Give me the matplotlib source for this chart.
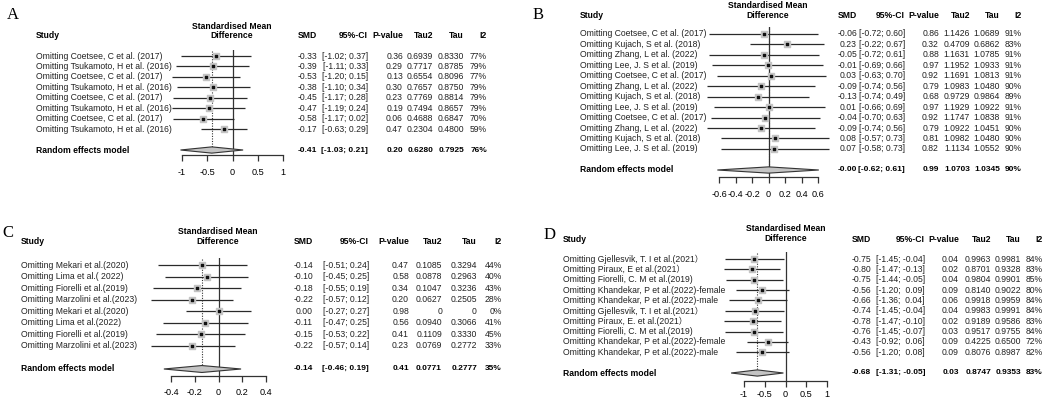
import numpy as np
import matplotlib.pyplot as plt
from matplotlib.transforms import blended_transform_factory

# ---- data: panel A
a_study = ["Omitting Coetsee, C et al. (2017)", "Omitting Tsukamoto, H et al. (2016)",
           "Omitting Coetsee, C et al. (2017)", "Omitting Tsukamoto, H et al. (2016)",
           "Omitting Coetsee, C et al. (2017)", "Omitting Tsukamoto, H et al. (2016)",
           "Omitting Coetsee, C et al. (2017)", "Omitting Tsukamoto, H et al. (2016)"]
a_smd = [-0.33, -0.39, -0.53, -0.38, -0.45, -0.47, -0.58, -0.17]
a_lo = [-1.02, -1.11, -1.20, -1.10, -1.17, -1.19, -1.17, -0.63]
a_hi = [0.37, 0.33, 0.15, 0.34, 0.28, 0.24, 0.02, 0.29]
a_p = [0.36, 0.29, 0.13, 0.30, 0.23, 0.19, 0.06, 0.47]
a_tau2 = [0.6939, 0.7717, 0.6554, 0.7657, 0.7769, 0.7494, 0.4688, 0.2304]
a_tau = [0.8330, 0.8785, 0.8096, 0.8750, 0.8814, 0.8657, 0.6847, 0.4800]
a_i2 = [77, 79, 77, 79, 79, 79, 70, 59]
a_pool = [-0.41, -1.03, 0.21, 0.20, 0.6280, 0.7925, 76]
a_ticks = [-1, -0.5, 0, 0.5, 1]
a_ticklabels = ["-1", "-0.5", "0", "0.5", "1"]

# ---- data: panel B
b_study = ["Omitting Coetsee, C et al. (2017)", "Omitting Kujach, S et al. (2018)",
           "Omitting Zhang, L et al. (2022)", "Omitting Lee, J. S et al. (2019)",
           "Omitting Coetsee, C et al. (2017)", "Omitting Zhang, L et al. (2022)",
           "Omitting Kujach, S et al. (2018)", "Omitting Lee, J. S et al. (2019)",
           "Omitting Coetsee, C et al. (2017)", "Omitting Zhang, L et al. (2022)",
           "Omitting Kujach, S et al. (2018)", "Omitting Lee, J. S et al. (2019)"]
b_smd = [-0.06, 0.23, -0.05, -0.01, 0.03, -0.09, -0.13, 0.01, -0.04, -0.09, 0.08, 0.07]
b_lo = [-0.72, -0.22, -0.72, -0.69, -0.63, -0.74, -0.74, -0.66, -0.70, -0.74, -0.57, -0.58]
b_hi = [0.60, 0.67, 0.61, 0.66, 0.70, 0.56, 0.49, 0.69, 0.63, 0.56, 0.73, 0.73]
b_p = [0.86, 0.32, 0.88, 0.97, 0.92, 0.79, 0.68, 0.97, 0.92, 0.79, 0.81, 0.82]
b_tau2 = [1.1426, 0.4709, 1.1631, 1.1952, 1.1691, 1.0983, 0.9729, 1.1929, 1.1747, 1.0922, 1.0982, 1.1134]
b_tau = [1.0689, 0.6862, 1.0785, 1.0933, 1.0813, 1.0480, 0.9864, 1.0922, 1.0838, 1.0451, 1.0480, 1.0552]
b_i2 = [91, 83, 91, 91, 91, 90, 89, 91, 91, 90, 90, 90]
b_pool = [-0.00, -0.62, 0.61, 0.99, 1.0703, 1.0345, 90]
b_ticks = [-0.6, -0.4, -0.2, 0, 0.2, 0.4, 0.6]
b_ticklabels = ["-0.6", "-0.4", "-0.2", "0", "0.2", "0.4", "0.6"]

# ---- data: panel C
c_study = ["Omitting Mekari et al.(2020)", "Omitting Lima et al.( 2022)",
           "Omitting Fiorelli et al.(2019)", "Omitting Marzolini et al.(2023)",
           "Omitting Mekari et al.(2020)", "Omitting Lima et al.(2022)",
           "Omitting Fiorelli et al.(2019)", "Omitting Marzolini et al.(2023)"]
c_smd = [-0.14, -0.10, -0.18, -0.22, 0.00, -0.11, -0.15, -0.22]
c_lo = [-0.51, -0.45, -0.55, -0.57, -0.27, -0.47, -0.53, -0.57]
c_hi = [0.24, 0.25, 0.19, 0.12, 0.27, 0.25, 0.22, 0.14]
c_p = [0.47, 0.58, 0.34, 0.20, 0.98, 0.56, 0.41, 0.23]
c_tau2 = [0.1085, 0.0878, 0.1047, 0.0627, 0, 0.0940, 0.1109, 0.0769]
c_tau = [0.3294, 0.2963, 0.3236, 0.2505, 0, 0.3066, 0.3330, 0.2772]
c_i2 = [44, 40, 43, 28, 0, 41, 45, 33]
c_pool = [-0.14, -0.46, 0.19, 0.41, 0.0771, 0.2777, 35]
c_ticks = [-0.4, -0.2, 0, 0.2, 0.4]
c_ticklabels = ["-0.4", "-0.2", "0", "0.2", "0.4"]

# ---- data: panel D
d_study = ["Omitting Gjellesvik, T. I et al.(2021）", "Omitting Piraux, E et al.(2021）",
           "Omitting Fiorelli, C. M et al.(2019)", "Omitting Khandekar, P et al.(2022)-female",
           "Omitting Khandekar, P et al.(2022)-male", "Omitting Gjellesvik, T. I et al.(2021）",
           "Omitting Piraux, E. et al.(2021）", "Omitting Fiorelli, C. M et al.(2019)",
           "Omitting Khandekar, P et al.(2022)-female", "Omitting Khandekar, P et al.(2022)-male"]
d_smd = [-0.75, -0.80, -0.75, -0.56, -0.66, -0.74, -0.78, -0.76, -0.43, -0.56]
d_lo = [-1.45, -1.47, -1.44, -1.20, -1.36, -1.45, -1.47, -1.45, -0.92, -1.20]
d_hi = [-0.04, -0.13, -0.05, 0.09, 0.04, -0.04, -0.10, -0.07, 0.06, 0.08]
d_p = [0.04, 0.02, 0.04, 0.09, 0.06, 0.04, 0.02, 0.03, 0.09, 0.09]
d_tau2 = [0.9963, 0.8701, 0.9804, 0.8140, 0.9918, 0.9983, 0.9189, 0.9517, 0.4225, 0.8076]
d_tau = [0.9981, 0.9328, 0.9901, 0.9022, 0.9959, 0.9991, 0.9586, 0.9755, 0.6500, 0.8987]
d_i2 = [84, 83, 85, 80, 84, 84, 83, 84, 72, 82]
d_pool = [-0.68, -1.31, -0.05, 0.03, 0.8747, 0.9353, 83]
d_ticks = [-1, -0.5, 0, 0.5, 1]
d_ticklabels = ["-1", "-0.5", "0", "0.5", "1"]

W, H = 1045, 399
FS = 6.2
SANS = ['Liberation Sans', 'Noto Sans CJK SC', 'DejaVu Sans']
SERIF = ['Liberation Serif', 'DejaVu Serif']

fig = plt.figure(figsize=(W / 100, H / 100), dpi=100)


def fx(px):
    return px / W


def fy(py):
    return 1 - py / H


def num(v, d):
    if v == 0 and d == 4:
        return "0"
    return f"{v:.{d}f}"


def ci_text(lo, hi, wlo, whi):
    return "[" + f"{lo:.2f}".rjust(wlo) + "; " + f"{hi:.2f}".rjust(whi) + "]"


def forest(study, smd, lo, hi, p, tau2, tau, i2, pool, ticks, ticklabels, lay):
    n = len(study)
    x0, x1 = lay['xpx']
    row1, step, re_px, axis_px, top_px = lay['ypx']
    ax = fig.add_axes([fx(x0), fy(axis_px), (x1 - x0) / W, (axis_px - top_px) / H])
    yb = 1 + (axis_px - row1) / step
    yt = 1 + (top_px - row1) / step
    ax.set_xlim(ticks[0], ticks[-1])
    ax.set_ylim(yb, yt)
    ax.patch.set_visible(False)
    for s in ['top', 'left', 'right']:
        ax.spines[s].set_visible(False)
    ax.spines['bottom'].set_linewidth(0.9)
    ax.spines['bottom'].set_color('#333333')
    ax.set_yticks([])
    ax.set_xticks(ticks)
    ax.set_xticklabels(ticklabels, fontsize=FS + 0.4, family=SANS)
    ax.tick_params(axis='x', length=4, width=0.9, pad=lay['pad'], color='#333333')

    rows = np.arange(1, n + 1)
    yre = 1 + (re_px - row1) / step
    ax.axvline(0, color='#333333', lw=0.9, zorder=1)
    ax.vlines(pool[0], yt + 0.1, yre, color='#333333', lw=0.8,
              linestyles=(0, (1, 1.3)), zorder=1)
    ax.hlines(rows, lo, hi, color='#2a2a2a', lw=0.9, zorder=2, clip_on=False)
    ax.scatter(smd, rows, marker='s', s=25, color='#C4C4C4', zorder=3, clip_on=False)
    ax.scatter(smd, rows, marker='s', s=1.3, color='#111111', zorder=4, clip_on=False)
    h = 0.3
    ax.fill([pool[1], pool[0], pool[2], pool[0]], [yre, yre - h, yre, yre + h],
            facecolor='#C4C4C4', edgecolor='#333333', lw=0.8, zorder=3, clip_on=False)

    tr = blended_transform_factory(fig.transFigure, ax.transData)
    sx = lay['study_x']
    cols = lay['cols']
    hy = lay['head_y']
    mx, my = lay['mid']
    fig.text(fx(mx), fy(my), "Standardised Mean\nDifference", ha='center', va='center',
             fontsize=FS, fontweight='bold', family=SANS, linespacing=1.05)
    fig.text(fx(sx), fy(hy), "Study", ha='left', va='center', fontsize=FS,
             fontweight='bold', family=SANS)
    for c, lab in zip(cols, ["SMD", "95%-CI", "P-value", "Tau2", "Tau", "I2"]):
        fig.text(fx(c), fy(hy), lab, ha='right', va='center', fontsize=FS,
                 fontweight='bold', family=SANS)
    fig.text(fx(lay['letter'][0]), fy(lay['letter'][1]), lay['name'], ha='center',
             va='center', fontsize=12, family=SERIF)

    wlo = max(len(f"{v:.2f}") for v in list(lo) + [pool[1]])
    whi = max(len(f"{v:.2f}") for v in list(hi) + [pool[2]])
    for i in range(n):
        y = rows[i]
        vals = [num(smd[i], 2), ci_text(lo[i], hi[i], wlo, whi), num(p[i], 2),
                num(tau2[i], 4), num(tau[i], 4), f"{i2[i]}%"]
        ax.text(fx(sx), y, study[i], transform=tr, ha='left', va='center',
                fontsize=FS, family=SANS, color='#222222')
        for c, v in zip(cols, vals):
            ax.text(fx(c), y, v, transform=tr, ha='right', va='center',
                    fontsize=FS, family=SANS, color='#222222')
    vals = [num(pool[0], 2), ci_text(pool[1], pool[2], wlo, whi), num(pool[3], 2),
            num(pool[4], 4), num(pool[5], 4), f"{pool[6]}%"]
    ax.text(fx(sx), yre, "Random effects model", transform=tr, ha='left', va='center',
            fontsize=FS, fontweight='bold', family=SANS)
    for c, v in zip(cols, vals):
        ax.text(fx(c), yre, v, transform=tr, ha='right', va='center',
                fontsize=FS - 0.2, fontweight='bold', family=SANS)
    return ax


forest(a_study, a_smd, a_lo, a_hi, a_p, a_tau2, a_tau, a_i2, a_pool, a_ticks, a_ticklabels,
       dict(name='A', letter=(13, 15), xpx=(182, 283), ypx=(56, 10.43, 150, 155, 50),
            study_x=36, head_y=36, mid=(232, 31), pad=5.5,
            cols=[317, 368, 403, 433, 464, 487]))
forest(b_study, b_smd, b_lo, b_hi, b_p, b_tau2, b_tau, b_i2, b_pool, b_ticks, b_ticklabels,
       dict(name='B', letter=(538, 15), xpx=(719, 818), ypx=(34, 10.45, 170, 177, 27),
            study_x=580, head_y=16, mid=(768, 10.5), pad=5.5,
            cols=[857, 905, 939, 970, 1000, 1022]))
forest(c_study, c_smd, c_lo, c_hi, c_p, c_tau2, c_tau, c_i2, c_pool, c_ticks, c_ticklabels,
       dict(name='C', letter=(8, 233), xpx=(171, 266), ypx=(265, 11.55, 369, 376, 258),
            study_x=21, head_y=242, mid=(218, 236.5), pad=4.5,
            cols=[313, 369, 409, 442, 477, 502]))
forest(d_study, d_smd, d_lo, d_hi, d_p, d_tau2, d_tau, d_i2, d_pool, d_ticks, d_ticklabels,
       dict(name='D', letter=(550, 235), xpx=(744, 827), ypx=(259, 10.37, 373, 381, 252),
            study_x=563, head_y=239, mid=(786, 233.5), pad=2.5,
            cols=[871, 925, 959, 991, 1021, 1043]))

fig.savefig("out.png", dpi=100)
